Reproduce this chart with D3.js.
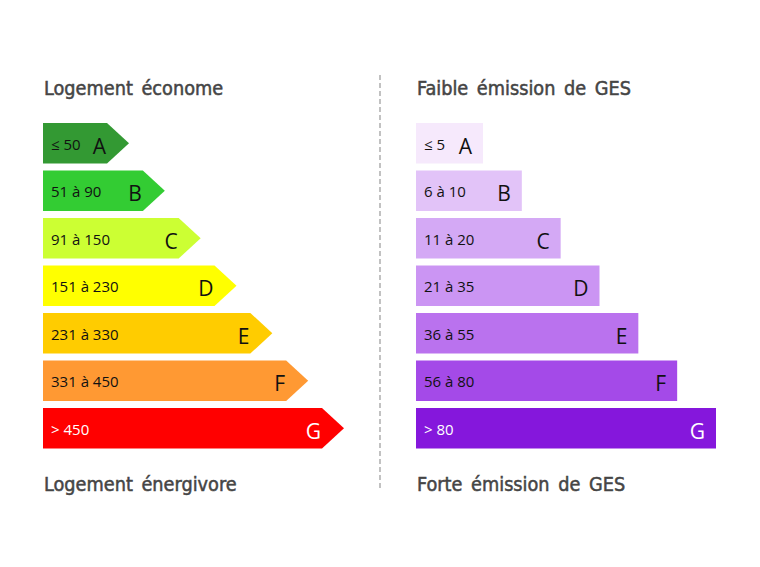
<!DOCTYPE html>
<html>
<head>
<meta charset="utf-8">
<script src="https://cdn.jsdelivr.net/npm/d3@7"></script>
<style>
  body { margin: 0; background: #fff; }
  svg { display: block; }
</style>
</head>
<body>
<svg id="chart"></svg>
<script>
// Energy classes (DPE) and greenhouse-gas classes (GES)
const classes = ['A', 'B', 'C', 'D', 'E', 'F', 'G'];
const energyRanges = ['≤ 50', '51 à 90', '91 à 150', '151 à 230', '231 à 330', '331 à 450', '> 450'];
const gesRanges = ['≤ 5', '6 à 10', '11 à 20', '21 à 35', '36 à 55', '56 à 80', '> 80'];
// relative bar length (class rank)
const energyLevels = [1, 2, 3, 4, 5, 6, 7];
const gesLevels = [1, 2, 3, 4, 5, 6, 7];
const energyColors = ['#339933', '#33cc33', '#ccff33', '#ffff00', '#ffcc00', '#ff9933', '#ff0000'];
const gesColors = ['#f6e9fc', '#e2c3f8', '#d4a9f5', '#cb95f3', '#ba72ee', '#a44ae8', '#8517dc'];
const titles = {
  energy: ['Logement économe', 'Logement énergivore'],
  ges: ['Faible émission de GES', 'Forte émission de GES']
};

const W = 760, H = 567;
const svg = d3.select('#chart').attr('width', W).attr('height', H);

const y = d3.scaleBand()
  .domain(classes)
  .range([123, 448.5])
  .paddingInner(0.147)
  .paddingOuter(0);

const TIP = 22;

function panel(opts) {
  const g = svg.append('g');
  const x = d3.scaleLinear().domain([1, 7]).range(opts.lengths);
  const rows = classes.map((c, i) => ({
    cls: c, range: opts.ranges[i], level: opts.levels[i], color: opts.colors[i]
  }));

  const headingStyle = sel => sel
    .attr('x', opts.x0 + 1)
    .attr('font-family', '"DejaVu Sans", sans-serif')
    .style('font-stretch', 'condensed')
    .style('word-spacing', '3px')
    .attr('font-size', 19.7)
    .attr('fill', '#454545')
    .attr('stroke', '#454545')
    .attr('stroke-width', 0.5);

  g.append('text').call(headingStyle).attr('y', 95).text(opts.titles[0]);
  g.append('text').call(headingStyle).attr('y', 491).text(opts.titles[1]);

  const row = g.selectAll('.row').data(rows).enter().append('g')
    .attr('class', 'row')
    .attr('transform', d => `translate(${opts.x0},${y(d.cls)})`);

  const h = y.bandwidth();
  row.append('path')
    .attr('fill', d => d.color)
    .attr('d', d => {
      const w = x(d.level);
      if (!opts.arrow) return `M0,0H${w}V${h}H0Z`;
      return `M0,0H${w}L${w + TIP},${h / 2}L${w},${h}H0Z`;
    });

  row.append('text')
    .attr('x', 8)
    .attr('y', 27)
    .attr('font-family', '"Open Sans", sans-serif')
    .attr('font-size', 15)
    .attr('fill', d => d.cls === 'G' ? '#fff' : '#111')
    .text(d => d.range);

  row.append('text')
    .attr('x', d => x(d.level) + opts.letterOffset)
    .attr('y', 31)
    .attr('text-anchor', 'end')
    .attr('font-family', '"Open Sans", sans-serif')
    .attr('font-size', 21)
    .attr('fill', d => d.cls === 'G' ? '#fff' : '#111')
    .text(d => d.cls);
}

panel({
  x0: 43, lengths: [64, 279], levels: energyLevels, ranges: energyRanges,
  colors: energyColors, titles: titles.energy, arrow: true, letterOffset: -1
});

panel({
  x0: 416, lengths: [67, 300], levels: gesLevels, ranges: gesRanges,
  colors: gesColors, titles: titles.ges, arrow: false, letterOffset: -11
});

// dashed divider between the two scales
svg.append('line')
  .attr('x1', 380).attr('x2', 380)
  .attr('y1', 75).attr('y2', 491)
  .attr('stroke', '#999')
  .attr('stroke-width', 1.2)
  .attr('stroke-dasharray', '5,3');
</script>
</body>
</html>
